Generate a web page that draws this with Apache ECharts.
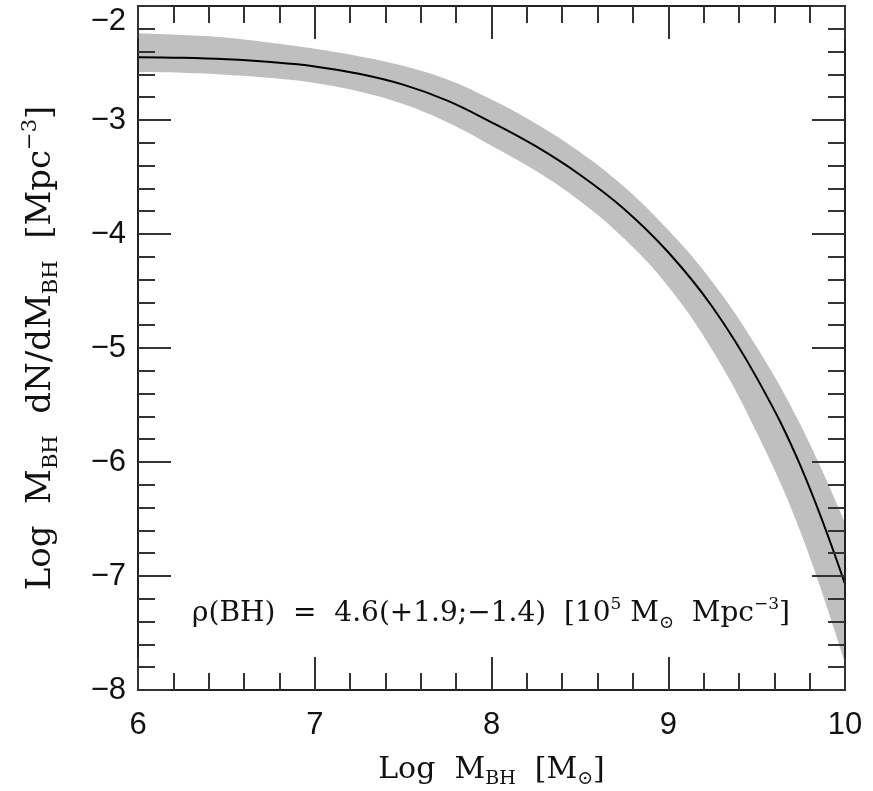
<!DOCTYPE html>
<html>
<head>
<meta charset="utf-8">
<script src="https://cdn.jsdelivr.net/npm/echarts@6/dist/echarts.min.js"></script>
<style>
  html, body { margin: 0; padding: 0; background: #fff; }
  #chart { width: 873px; height: 791px; }
</style>
</head>
<body>
<div id="chart"></div>
<script>
// log black hole mass grid
const massGrid = [6.0, 6.25, 6.5, 6.75, 7.0, 7.25, 7.5, 7.75, 8.0, 8.25, 8.5, 8.75, 9.0, 9.25, 9.5, 9.75, 10.0];
// best estimate of the mass function
const logPhi = [-2.45, -2.455, -2.468, -2.492, -2.53, -2.595, -2.69, -2.83, -3.02, -3.23, -3.48, -3.78, -4.16, -4.64, -5.26, -6.04, -7.07];
// upper / lower edge of the grey uncertainty band
const logPhiUpper = [-2.24, -2.255, -2.278, -2.322, -2.375, -2.44, -2.525, -2.645, -2.82, -3.03, -3.28, -3.585, -3.965, -4.42, -4.99, -5.68, -6.53];
const logPhiLower = [-2.58, -2.585, -2.603, -2.632, -2.675, -2.75, -2.86, -3.02, -3.225, -3.445, -3.71, -4.04, -4.46, -5.02, -5.74, -6.62, -7.76];

const xTicks = [6, 7, 8, 9, 10];
const yTicks = [-8, -7, -6, -5, -4, -3, -2];

const serif = 'DejaVu Serif';
const sans = 'Liberation Sans';
const axisColor = '#222';
const smoothness = 0.4;

const chart = echarts.init(document.getElementById('chart'));

const pairs = arr => massGrid.map((m, i) => [m, arr[i]]);

function frameAxis(extra) {
    return Object.assign({
        type: 'value',
        z: 10,
        axisLine: { show: true, onZero: false, lineStyle: { color: axisColor, width: 2 } },
        axisTick: { show: true, inside: true, length: 33, lineStyle: { color: '#333', width: 2 } },
        minorTick: { show: true, splitNumber: 5, length: 17, lineStyle: { color: '#333', width: 2 } },
        splitLine: { show: false },
        minorSplitLine: { show: false }
    }, extra);
}

chart.setOption({
    animation: false,
    backgroundColor: '#fff',
    grid: { left: 138, right: 28, top: 6, bottom: 101, containLabel: false, outerBoundsMode: 'none' },
    xAxis: [
        frameAxis({
            min: 6, max: 10, interval: 1, position: 'bottom',
            axisLabel: { show: true, margin: 20, fontSize: 31, fontFamily: sans, color: '#111',
                formatter: v => xTicks.includes(v) ? String(v) : '' },
            name: '{n|Log  M}{s|BH}{n|  [M}{s|⊙}{n|]}',
            nameLocation: 'middle',
            nameGap: 61,
            nameTextStyle: {
                rich: {
                    n: { fontFamily: serif, fontSize: 30, color: '#111', lineHeight: 38 },
                    s: { fontFamily: serif, fontSize: 19, color: '#111', lineHeight: 38, verticalAlign: 'bottom', padding: [14, 0, 0, 0] }
                }
            }
        }),
        frameAxis({ min: 6, max: 10, interval: 1, position: 'top', axisLabel: { show: false } })
    ],
    yAxis: [
        frameAxis({
            min: -8, max: -2, interval: 1, position: 'left',
            axisLabel: { show: true, margin: 12, fontSize: 31, fontFamily: sans, color: '#111',
                verticalAlignMaxLabel: 'top',
                formatter: v => yTicks.includes(v) ? String(v).replace('-', '\u2212') : '' },
            name: '{n|Log  M}{s|BH}{n|  dN/dM}{s|BH}{n|  [Mpc}{p|\u22123}{n|]}',
            nameLocation: 'middle',
            nameGap: 76,
            nameRotate: 90,
            nameTextStyle: {
                rich: {
                    n: { fontFamily: serif, fontSize: 34, color: '#111', lineHeight: 42 },
                    s: { fontFamily: serif, fontSize: 21, color: '#111', lineHeight: 42, verticalAlign: 'bottom', padding: [15, 0, 0, 0] },
                    p: { fontFamily: serif, fontSize: 21, color: '#111', lineHeight: 42, verticalAlign: 'top', padding: [0, 0, 17, 0] }
                }
            }
        }),
        frameAxis({ min: -8, max: -2, interval: 1, position: 'right', axisLabel: { show: false } })
    ],
    series: [
        {
            // grey fill from the upper edge down to the axis
            name: 'upper',
            type: 'line',
            data: pairs(logPhiUpper),
            smooth: smoothness,
            showSymbol: false,
            silent: true,
            lineStyle: { width: 0, opacity: 0 },
            areaStyle: { color: '#bfbfbf', opacity: 1, origin: 'start' },
            z: 1
        },
        {
            // white fill below the lower edge, leaves only the band
            name: 'lower',
            type: 'line',
            data: pairs(logPhiLower),
            smooth: smoothness,
            showSymbol: false,
            silent: true,
            lineStyle: { width: 0, opacity: 0 },
            areaStyle: { color: '#ffffff', opacity: 1, origin: 'start' },
            z: 2
        },
        {
            name: 'logPhi',
            type: 'line',
            data: pairs(logPhi),
            smooth: smoothness,
            showSymbol: false,
            lineStyle: { color: '#000', width: 2 },
            z: 5
        }
    ],
    graphic: [
        {
            type: 'text',
            left: 192,
            top: 596,
            z: 20,
            style: {
                text: '{n|\u03C1(BH)  =  4.6(+1.9;\u22121.4)  [10}{p|5}{n| M}{s|\u2299}{n|  Mpc}{p|\u22123}{n|]}',
                rich: {
                    n: { fontFamily: serif, fontSize: 28, fill: '#111', lineHeight: 36 },
                    s: { fontFamily: serif, fontSize: 18, fill: '#111', lineHeight: 36, verticalAlign: 'bottom', padding: [12, 0, 0, 0] },
                    p: { fontFamily: serif, fontSize: 17, fill: '#111', lineHeight: 36, verticalAlign: 'top', padding: [0, 0, 14, 0] }
                }
            }
        }
    ]
});
</script>
</body>
</html>
